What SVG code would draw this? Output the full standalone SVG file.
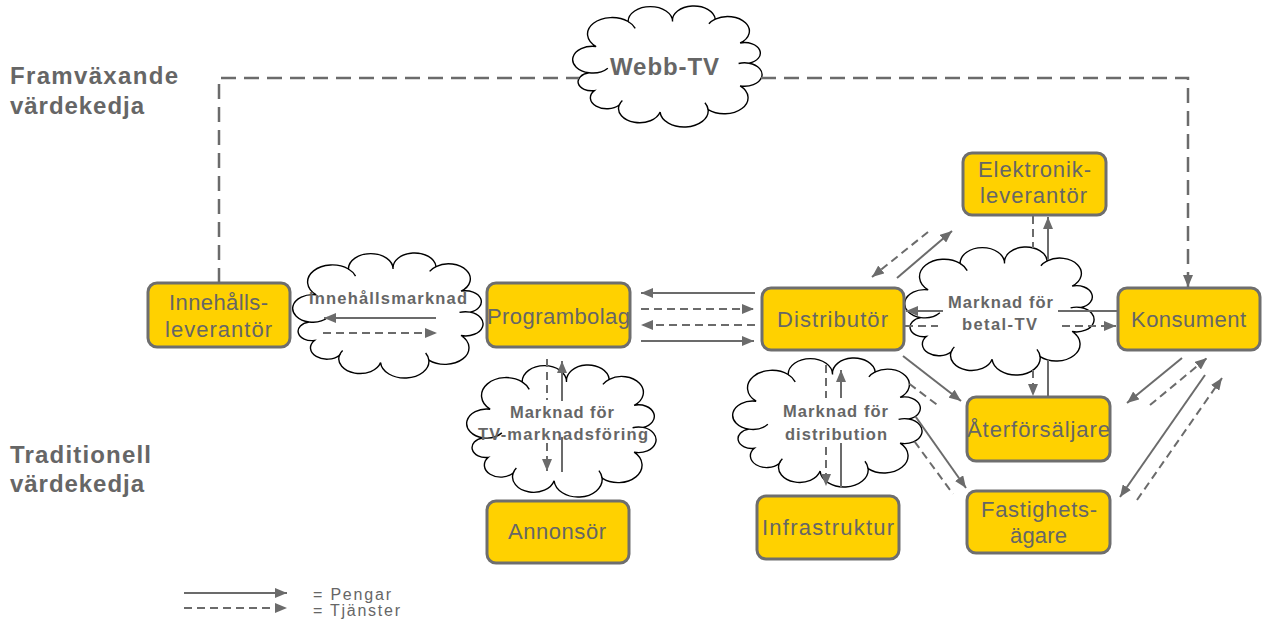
<svg xmlns="http://www.w3.org/2000/svg" width="1264" height="621" viewBox="0 0 1264 621">
<style>
.title{font-family:"Liberation Sans",Arial,sans-serif;font-weight:bold;font-size:24px;fill:#666}
.box{fill:#FFD100;stroke:#6e6e6e;stroke-width:3}
.bt{font-family:"Liberation Sans",Arial,sans-serif;font-size:22px;fill:#666}
.ct{font-family:"Liberation Sans",Arial,sans-serif;font-weight:bold;font-size:16.5px;fill:#666}
.wt{font-family:"Liberation Sans",Arial,sans-serif;font-weight:bold;font-size:24px;fill:#666}
.cloud{fill:#fff;stroke:#000;stroke-width:1.4}
.s{fill:none;stroke:#6b6b6b;stroke-width:2}
.d{fill:none;stroke:#6b6b6b;stroke-width:2;stroke-dasharray:8 5}
.w{fill:none;stroke:#6b6b6b;stroke-width:2.5;stroke-dasharray:15 8}
.lg{font-family:"Liberation Sans",Arial,sans-serif;font-size:16px;fill:#666}
</style>
<defs>
<marker id="ah" markerUnits="userSpaceOnUse" markerWidth="12" markerHeight="10" refX="12" refY="5" orient="auto"><path d="M0,0 L12,5 L0,10 z" fill="#6b6b6b"/></marker>
<g id="cloudg">
<path vector-effect="non-scaling-stroke" d="M5,55 A1,1 0 0 1 9,33 A1,1 0 0 1 27,12 A1,1 0 0 1 52,12 A1,1 0 0 1 76,10 A1,1 0 0 1 90,30 A1,1 0 0 1 95,47 A1,1 0 0 1 90,66 A1,1 0 0 1 72,86 A1,1 0 0 1 45,88 A1,1 0 0 1 22,82 A1,1 0 0 1 8,70 A1,1 0 0 1 5,55 Z"/>
<path fill="none" vector-effect="non-scaling-stroke" d="M5,55 A11.18,11.18 0 0 0 15.6,51.2 M27,12 A13.83,13.83 0 0 1 31,17.77 M76,10 A12.2,12.2 0 0 0 72.43,13.9 M95,47 A9.82,9.82 0 0 0 89.14,47.27 M72,86 A13.54,13.54 0 0 0 70.2,80.2 M22,82 A11.88,11.88 0 0 1 23.77,78.2"/>
</g>
</defs>

<g id="titles">
<text class="title" x="10" y="84" textLength="168" lengthAdjust="spacing">Framväxande</text>
<text class="title" x="10" y="114" textLength="134" lengthAdjust="spacing">värdekedja</text>
<text class="title" x="10" y="463" textLength="141" lengthAdjust="spacing">Traditionell</text>
<text class="title" x="10" y="492" textLength="134" lengthAdjust="spacing">värdekedja</text>
</g>

<g id="webb-tv">
<use href="#cloudg" class="cloud" transform="translate(580.11,7.19) scale(1.778,1.192)"/>
<text class="wt" x="610" y="75" textLength="109" lengthAdjust="spacing">Webb-TV</text>
</g>
<g id="innehallsmarknad">
<use href="#cloudg" class="cloud" transform="translate(300.15,254.23) scale(1.7874,1.2315)"/>
<text class="ct" x="309" y="304" textLength="158" lengthAdjust="spacing">Innehållsmarknad</text>
</g>
<g id="marknad-tv-marknadsforing">
<use href="#cloudg" class="cloud" transform="translate(474.11,366.3) scale(1.778,1.3005)"/>
<text class="ct" x="510" y="418" textLength="104" lengthAdjust="spacing">Marknad för</text>
<text class="ct" x="478" y="440" textLength="170" lengthAdjust="spacing">TV-marknadsföring</text>
</g>
<g id="marknad-distribution">
<use href="#cloudg" class="cloud" transform="translate(740.11,359.27) scale(1.778,1.2709)"/>
<text class="ct" x="783" y="417" textLength="105" lengthAdjust="spacing">Marknad för</text>
<text class="ct" x="785" y="440" textLength="102" lengthAdjust="spacing">distribution</text>
</g>
<g id="marknad-betal-tv">
<use href="#cloudg" class="cloud" transform="translate(912.11,248.26) scale(1.778,1.2611)"/>
<text class="ct" x="948" y="308" textLength="105" lengthAdjust="spacing">Marknad för</text>
<text class="ct" x="962" y="330" textLength="75" lengthAdjust="spacing">betal-TV</text>
</g>

<g id="innehallsleverantor"><rect class="box" x="148" y="283" width="142" height="64" rx="9"/>
<text class="bt" x="169" y="310" textLength="99" lengthAdjust="spacing">Innehålls-</text>
<text class="bt" x="165" y="337" textLength="107" lengthAdjust="spacing">leverantör</text></g>
<g id="programbolag"><rect class="box" x="487" y="283" width="143" height="64" rx="9"/>
<text class="bt" x="487" y="324" textLength="143" lengthAdjust="spacing">Programbolag</text></g>
<g id="distributor"><rect class="box" x="762" y="288" width="142" height="62" rx="9"/>
<text class="bt" x="777" y="327" textLength="111" lengthAdjust="spacing">Distributör</text></g>
<g id="konsument"><rect class="box" x="1118" y="288" width="142" height="62" rx="9"/>
<text class="bt" x="1131" y="327" textLength="115" lengthAdjust="spacing">Konsument</text></g>
<g id="elektronikleverantor"><rect class="box" x="963" y="153" width="143" height="62" rx="9"/>
<text class="bt" x="978" y="177" textLength="113" lengthAdjust="spacing">Elektronik-</text>
<text class="bt" x="980" y="203" textLength="107" lengthAdjust="spacing">leverantör</text></g>
<g id="aterforsaljare"><rect class="box" x="967" y="397" width="143" height="64" rx="9"/>
<text class="bt" x="967" y="437" textLength="143" lengthAdjust="spacing">Återförsäljare</text></g>
<g id="fastighetsagare"><rect class="box" x="967" y="491" width="143" height="62" rx="9"/>
<text class="bt" x="981" y="517" textLength="116" lengthAdjust="spacing">Fastighets-</text>
<text class="bt" x="1010" y="543" textLength="57" lengthAdjust="spacing">ägare</text></g>
<g id="annonsor"><rect class="box" x="487" y="501" width="142" height="62" rx="9"/>
<text class="bt" x="508" y="539" textLength="98" lengthAdjust="spacing">Annonsör</text></g>
<g id="infrastruktur"><rect class="box" x="757" y="496" width="142" height="63" rx="9"/>
<text class="bt" x="762" y="535" textLength="132" lengthAdjust="spacing">Infrastruktur</text></g>

<g id="connectors">
<path class="w" d="M219,283 V78 H579"/>
<path class="w" d="M761,78 H1188 V287" marker-end="url(#ah)"/>
<line class="s" x1="436" y1="318" x2="324" y2="318" marker-end="url(#ah)"/>
<line class="d" x1="323" y1="333" x2="437" y2="333" marker-end="url(#ah)"/>
<line class="s" x1="755" y1="293" x2="641" y2="293" marker-end="url(#ah)"/>
<line class="d" x1="641" y1="309" x2="754" y2="309" marker-end="url(#ah)"/>
<line class="d" x1="755" y1="325" x2="641" y2="325" marker-end="url(#ah)"/>
<line class="s" x1="641" y1="341" x2="754" y2="341" marker-end="url(#ah)"/>
<path class="d" d="M547,359 V400 M547,443 V471" marker-end="url(#ah)"/>
<path class="s" d="M562,472 V437 M562,401 V361" marker-end="url(#ah)"/>
<path class="d" d="M826,365 V398 M826,447 V486" marker-end="url(#ah)"/>
<path class="s" d="M841,487 V443 M841,398 V370" marker-end="url(#ah)"/>
<path class="s" d="M1118,311 H1058 M943,311 H906" marker-end="url(#ah)"/>
<path class="d" d="M905,326 H938 M1062,326 H1116" marker-end="url(#ah)"/>
<path class="d" d="M1033,216 V248 M1033,370 V396" marker-end="url(#ah)"/>
<path class="s" d="M1048,397 V360 M1048,260 V217" marker-end="url(#ah)"/>
<line class="d" x1="928" y1="232" x2="872" y2="277" marker-end="url(#ah)"/>
<line class="s" x1="897" y1="278" x2="952" y2="231" marker-end="url(#ah)"/>
<line class="s" x1="903" y1="356" x2="961" y2="401" marker-end="url(#ah)"/>
<line class="d" x1="909.3" y1="383.8" x2="940" y2="407"/>
<line class="s" x1="915.5" y1="416.5" x2="966" y2="488" marker-end="url(#ah)"/>
<line class="d" x1="914.5" y1="441.5" x2="953" y2="494"/>
<line class="s" x1="1182" y1="358" x2="1127" y2="403" marker-end="url(#ah)"/>
<line class="d" x1="1150" y1="405" x2="1207" y2="358" marker-end="url(#ah)"/>
<line class="s" x1="1205" y1="375" x2="1120" y2="497" marker-end="url(#ah)"/>
<line class="d" x1="1137" y1="500" x2="1222" y2="378" marker-end="url(#ah)"/>
</g>

<g id="legend">
<line class="s" x1="184" y1="593" x2="287" y2="593" marker-end="url(#ah)"/>
<line class="d" x1="184" y1="608" x2="287" y2="608" marker-end="url(#ah)"/>
<text class="lg" x="313" y="600" textLength="78" lengthAdjust="spacing">= Pengar</text>
<text class="lg" x="313" y="616" textLength="87" lengthAdjust="spacing">= Tjänster</text>
</g>
</svg>
